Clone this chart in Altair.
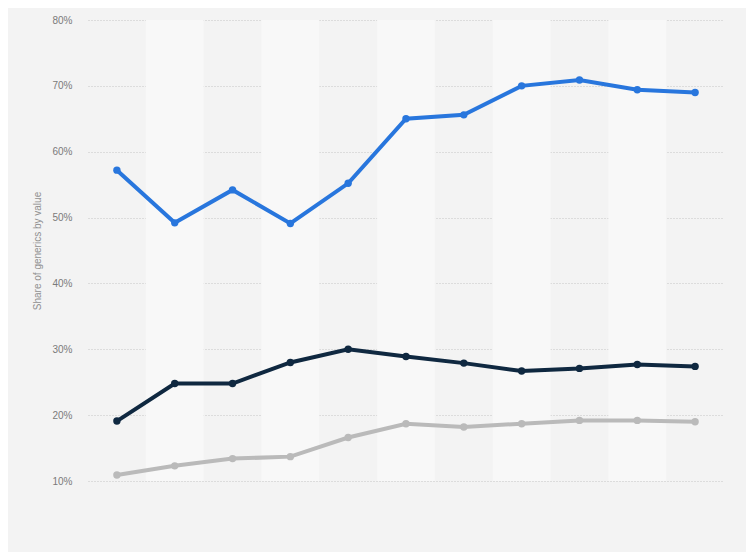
import altair as alt
import pandas as pd

years = ["2008", "2009", "2010", "2011", "2012", "2013", "2014", "2015", "2016", "2017", "2018"]
series_a = [57.2, 49.2, 54.2, 49.1, 55.2, 65.0, 65.6, 70.0, 70.9, 69.4, 69.0]
series_b = [19.1, 24.8, 24.8, 28.0, 30.0, 28.9, 27.9, 26.7, 27.1, 27.7, 27.4]
series_c = [10.9, 12.3, 13.4, 13.7, 16.6, 18.7, 18.2, 18.7, 19.2, 19.2, 19.0]
series_names = ["Series A", "Series B", "Series C"]
series_colors = ["#2876dd", "#0f2840", "#bababa"]
y_ticks = [10, 20, 30, 40, 50, 60, 70, 80]

rows = []
for name, vals in zip(series_names, [series_a, series_b, series_c]):
    for yr, v in zip(years, vals):
        rows.append({"year": yr, "series": name, "value": v})
df = pd.DataFrame(rows)

bands = pd.DataFrame({"year": [y for i, y in enumerate(years) if i % 2 == 1]})

W, H = 636, 461

x_scale = alt.Scale(domain=years, paddingInner=0, paddingOuter=0)
y_scale = alt.Scale(domain=[10, 80], nice=False, zero=False)

band_layer = alt.Chart(bands).mark_rect(color="#f8f8f8").encode(
    x=alt.X("year:N", sort=years, scale=x_scale, axis=None),
    y=alt.value(0),
    y2=alt.value(H),
)

y_enc = alt.Y("value:Q", scale=y_scale,
              axis=alt.Axis(values=y_ticks, labelExpr="datum.value + '%'",
                            title="Share of generics by value",
                            grid=True, gridDash=[1, 2], gridColor="#c4c4c4", gridWidth=1,
                            domain=False, ticks=False, tickSize=0,
                            labelPadding=16, labelFontSize=10, labelColor="#7a7a7a",
                            labelFont="Liberation Sans",
                            titleFontSize=10, titleFontWeight="normal", titleColor="#909090",
                            titleFont="Liberation Sans", titlePadding=9))

color_enc = alt.Color("series:N", scale=alt.Scale(domain=series_names, range=series_colors), legend=None)

lines = alt.Chart(df).mark_line(strokeWidth=4).encode(
    x=alt.X("year:N", sort=years, scale=x_scale, axis=None),
    y=y_enc,
    color=color_enc,
)

points = alt.Chart(df).mark_point(filled=True, size=55, opacity=1).encode(
    x=alt.X("year:N", sort=years, scale=x_scale, axis=None),
    y=alt.Y("value:Q", scale=y_scale),
    color=color_enc,
)

chart = alt.layer(band_layer, lines, points).properties(
    width=W, height=H,
    autosize=alt.AutoSizeParams(type="none"),
    padding={"left": 80, "top": 12, "right": 22, "bottom": 71},
    background="#f3f3f3",
).configure_view(stroke=None, fill="#f3f3f3")

chart.save("out.html", embed_options={"renderer": "svg", "actions": False})
